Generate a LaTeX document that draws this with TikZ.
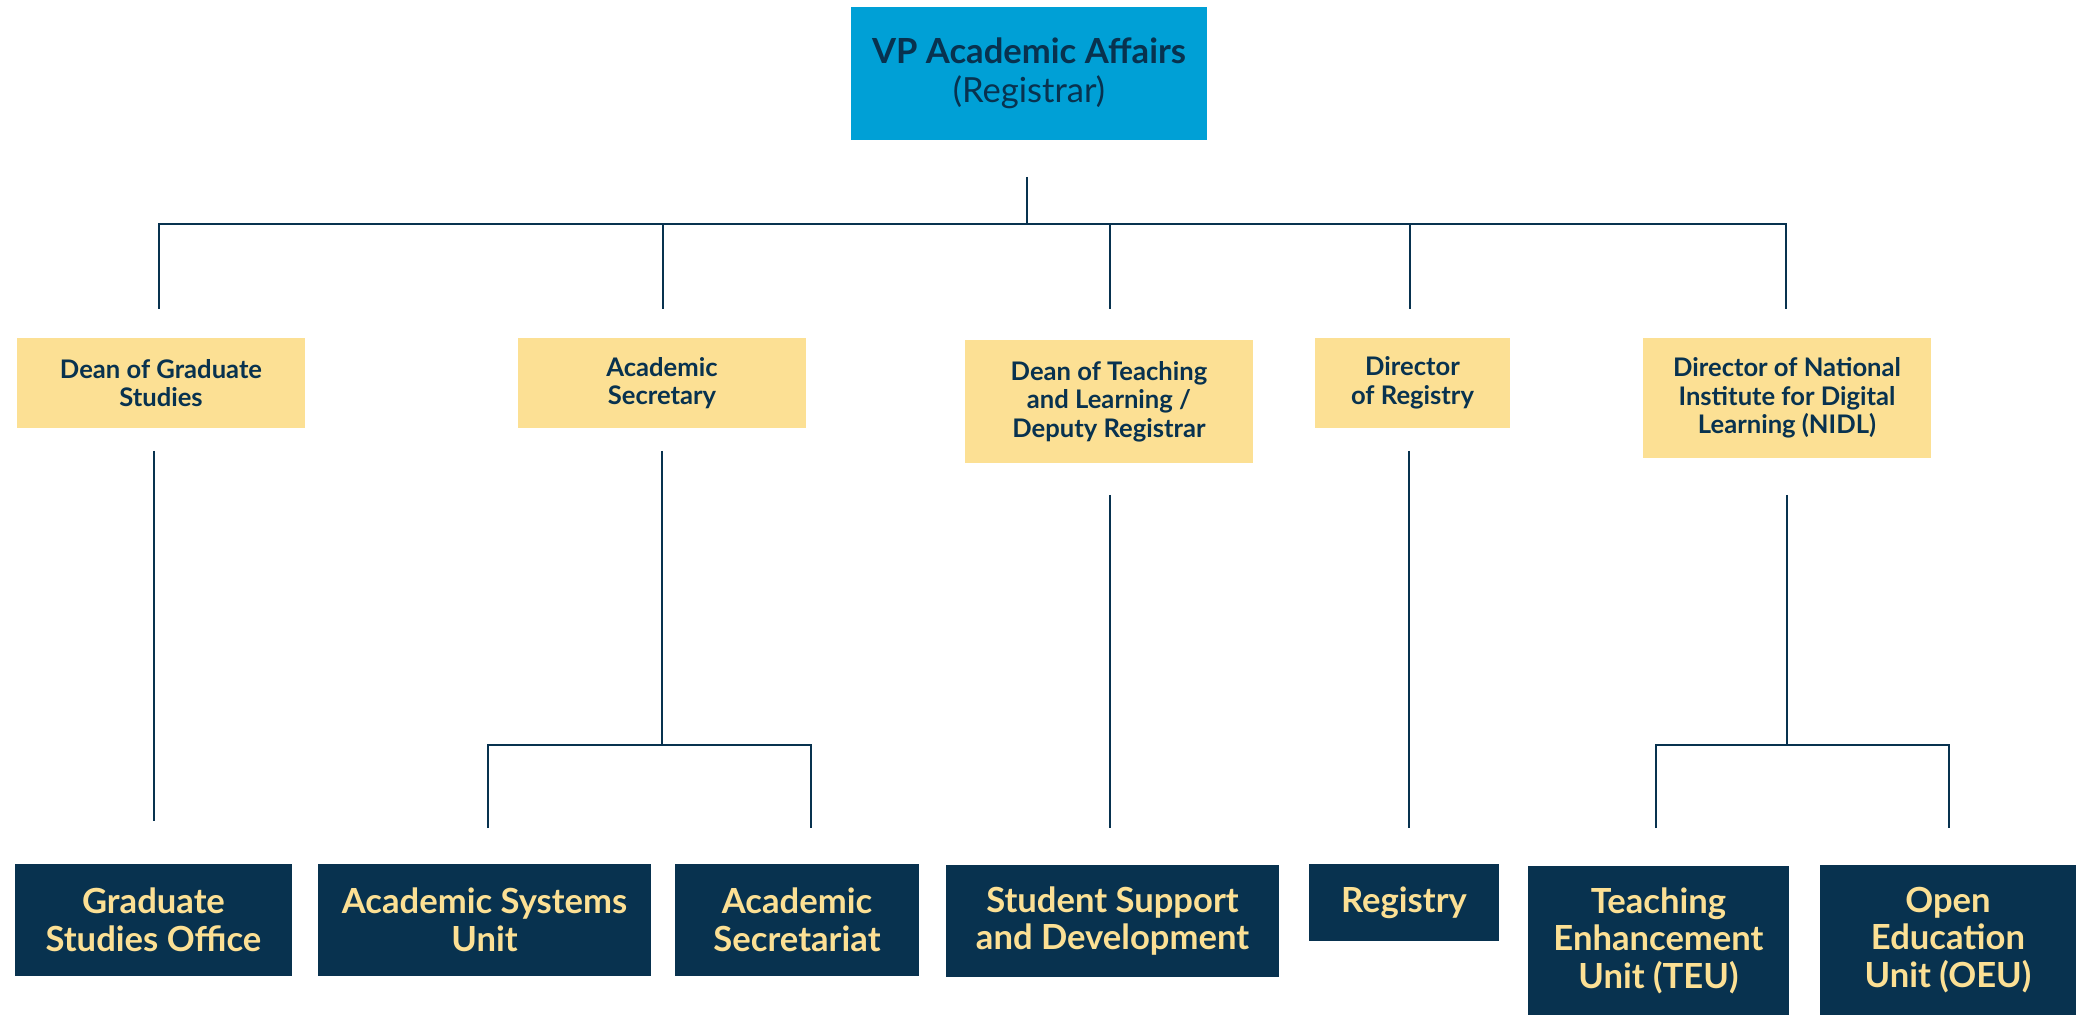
\documentclass[tikz,border=0pt]{standalone}
\usepackage{fontspec}
\setmainfont{Lato}
\definecolor{navy}{HTML}{08324F}
\definecolor{cyanbox}{HTML}{00A0D6}
\definecolor{ylw}{HTML}{FCE094}
\begin{document}
\begin{tikzpicture}[x=0.5pt,y=-0.5pt,
  conn/.style={draw=navy,line width=1.35pt},
  vpbox/.style={fill=cyanbox,text=navy,align=center,inner sep=0pt,font=\fontsize{17.3}{19.5}\selectfont},
  ybox/.style={fill=ylw,text=navy,align=center,inner sep=0pt,font=\bfseries\fontsize{12.8}{14.2}\selectfont,minimum width=144pt},
  nbox/.style={fill=navy,text=ylw,align=center,inner sep=0pt,font=\bfseries\fontsize{17.3}{18.8}\selectfont,minimum height=56pt}]
\useasboundingbox[fill=white] (0,0) rectangle (2084,1015);
% top
\node[vpbox,minimum width=178pt,minimum height=66.5pt] (vp) at (1029,73.5) {\textbf{VP Academic Affairs}\\(Registrar)};
% second level
\node[ybox,minimum height=45pt] (y1) at (161,383) {Dean of Graduate\\Studies};
\node[ybox,minimum height=45pt] (y2) at (662,383) {Academic\\Secretary};
\node[ybox,minimum height=61.5pt] (y3) at (1109,401.5) {Dean of Teaching\\and Learning /\\Deputy Registrar};
\node[ybox,minimum width=97.5pt,minimum height=45pt] (y4) at (1412.5,383) {Director\\of Registry};
\node[ybox,minimum height=60pt] (y5) at (1787,398) {Director of National\\Institute for Digital\\Learning (NIDL)};
% bottom level
\node[nbox,minimum width=138.5pt] (b1) at (153.5,920) {Graduate\\Studies Office};
\node[nbox,minimum width=166.5pt] (b2) at (484.5,920) {Academic Systems\\Unit};
\node[nbox,minimum width=122pt] (b3) at (797,920) {Academic\\Secretariat};
\node[nbox,minimum width=166.5pt] (b4) at (1112.5,921) {Student Support\\and Development};
\node[nbox,minimum width=95pt,minimum height=38.5pt] (b5) at (1404,902.5) {Registry};
\node[nbox,minimum width=130.5pt,minimum height=74.5pt] (b6) at (1658.5,940.5) {Teaching\\Enhancement\\Unit (TEU)};
\node[nbox,minimum width=128pt,minimum height=75pt] (b7) at (1948,940) {Open\\Education\\Unit (OEU)};
% connector coordinates
\coordinate (vpS) at (1027,177);
\coordinate (vpJ) at (1027,224);
\coordinate (busL) at (159,224);
\coordinate (busR) at (1786,224);
\coordinate (d1) at (159,309);
\coordinate (j2) at (663,224);  \coordinate (d2) at (663,309);
\coordinate (j3) at (1110,224); \coordinate (d3) at (1110,309);
\coordinate (j4) at (1410,224); \coordinate (d4) at (1410,309);
\coordinate (d5) at (1786,309);
% top tree
\draw[conn] (vpS) -- (vpJ);
\draw[conn] (d1) -- (busL) -- (busR) -- (d5);
\draw[conn] (j2) -- (d2);
\draw[conn] (j3) -- (d3);
\draw[conn] (j4) -- (d4);
% lower connectors
\coordinate (u1) at (154,451);  \coordinate (e1) at (154,821);
\coordinate (u2) at (662,451);  \coordinate (m2) at (662,745);
\coordinate (l2) at (488,745);  \coordinate (r2) at (811,745);
\coordinate (l2e) at (488,828); \coordinate (r2e) at (811,828);
\coordinate (u3) at (1110,495); \coordinate (e3) at (1110,828);
\coordinate (u4) at (1409,451); \coordinate (e4) at (1409,828);
\coordinate (u5) at (1787,495); \coordinate (m5) at (1787,745);
\coordinate (l5) at (1656,745); \coordinate (r5) at (1949,745);
\coordinate (l5e) at (1656,828); \coordinate (r5e) at (1949,828);
\draw[conn] (u1) -- (e1);
\draw[conn] (u2) -- (m2);
\draw[conn] (l2e) -- (l2) -- (r2) -- (r2e);
\draw[conn] (u3) -- (e3);
\draw[conn] (u4) -- (e4);
\draw[conn] (u5) -- (m5);
\draw[conn] (l5e) -- (l5) -- (r5) -- (r5e);
\end{tikzpicture}
\end{document}
